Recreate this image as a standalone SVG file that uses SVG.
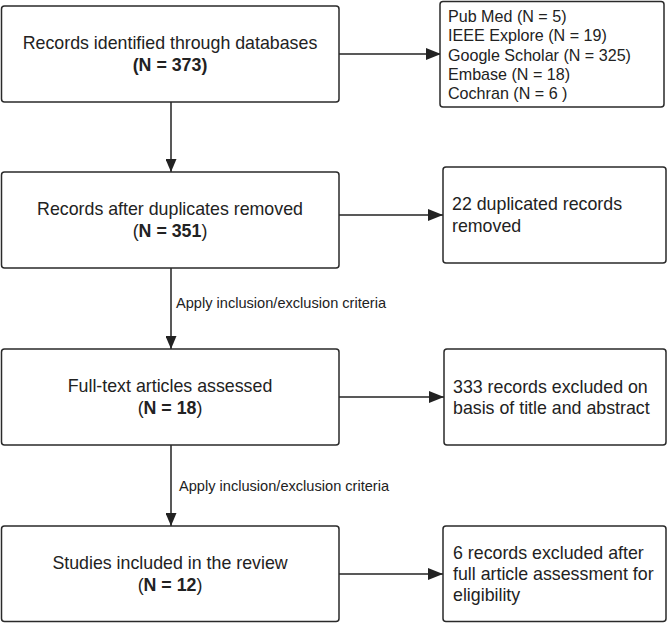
<svg xmlns="http://www.w3.org/2000/svg" width="668" height="623" viewBox="0 0 668 623">
<style>
.box{fill:#fff;stroke:#2a2a2a;stroke-width:1.5}
.t{font-family:"Liberation Sans",Arial,sans-serif;font-size:17.8px;fill:#222}
.c{text-anchor:middle}
.l{font-family:"Liberation Sans",Arial,sans-serif;font-size:16.1px;fill:#222}
.s{font-family:"Liberation Sans",Arial,sans-serif;font-size:14.6px;fill:#222}
.b{font-weight:bold}
.conn{stroke:#222;stroke-width:1.5;fill:none}
</style>
<defs>
<marker id="ah" markerWidth="15" markerHeight="12" refX="15" refY="6" orient="auto" markerUnits="userSpaceOnUse">
<path d="M0,0 L15,6 L0,12 Z" fill="#222"/>
</marker>
<marker id="av" markerWidth="13" markerHeight="11" refX="13" refY="5.5" orient="auto" markerUnits="userSpaceOnUse">
<path d="M0,0 L13,5.5 L0,11 Z" fill="#222"/>
</marker>
</defs>
<g id="connectors">
<line class="conn" x1="339" y1="54" x2="441" y2="54" marker-end="url(#ah)"/>
<line class="conn" x1="339" y1="215" x2="443" y2="215" marker-end="url(#ah)"/>
<line class="conn" x1="339" y1="397" x2="444" y2="397" marker-end="url(#ah)"/>
<line class="conn" x1="339" y1="574" x2="443" y2="574" marker-end="url(#ah)"/>
<line class="conn" x1="171" y1="102" x2="171" y2="172" marker-end="url(#av)"/>
<line class="conn" x1="171" y1="268" x2="171" y2="349" marker-end="url(#av)"/>
<line class="conn" x1="171" y1="445" x2="171" y2="526" marker-end="url(#av)"/>
<text class="s" x="176" y="308">Apply inclusion/exclusion criteria</text>
<text class="s" x="179" y="491">Apply inclusion/exclusion criteria</text>
</g>
<g id="n1">
<rect class="box" x="1.5" y="6" width="337.5" height="96" rx="3"/>
<text class="t c" x="170" y="49">Records identified through databases</text>
<text class="t c b" x="170" y="71">(N = 373)</text>
</g>
<g id="n1r">
<rect class="box" x="440" y="1.5" width="224" height="105.5" rx="3"/>
<text class="l" x="448" y="22">Pub Med (N = 5)</text>
<text class="l" x="448" y="41.3">IEEE Explore (N = 19)</text>
<text class="l" x="448" y="60.6">Google Scholar (N = 325)</text>
<text class="l" x="448" y="79.9">Embase (N = 18)</text>
<text class="l" x="448" y="99.2">Cochran (N = 6 )</text>
</g>
<g id="n2">
<rect class="box" x="1.5" y="172" width="337.5" height="96" rx="3"/>
<text class="t c" x="170" y="215">Records after duplicates removed</text>
<text class="t c" x="170" y="237">(<tspan class="b">N = 351</tspan>)</text>
</g>
<g id="n2r">
<rect class="box" x="443" y="167" width="223" height="96" rx="3"/>
<text class="t" x="452" y="210">22 duplicated records</text>
<text class="t" x="452" y="232">removed</text>
</g>
<g id="n3">
<rect class="box" x="1.5" y="349" width="337.5" height="96" rx="3"/>
<text class="t c" x="170" y="392">Full-text articles assessed</text>
<text class="t c" x="170" y="414">(<tspan class="b">N = 18</tspan>)</text>
</g>
<g id="n3r">
<rect class="box" x="444" y="349" width="222" height="96" rx="3"/>
<text class="t" x="453" y="393">333 records excluded on</text>
<text class="t" x="453" y="414">basis of title and abstract</text>
</g>
<g id="n4">
<rect class="box" x="1.5" y="526" width="337.5" height="95.5" rx="3"/>
<text class="t c" x="170" y="569">Studies included in the review</text>
<text class="t c" x="170" y="591">(<tspan class="b">N = 12</tspan>)</text>
</g>
<g id="n4r">
<rect class="box" x="443" y="526" width="223" height="95.5" rx="3"/>
<text class="t" x="453" y="559">6 records excluded after</text>
<text class="t" x="453" y="580">full article assessment for</text>
<text class="t" x="453" y="601">eligibility</text>
</g>
</svg>
